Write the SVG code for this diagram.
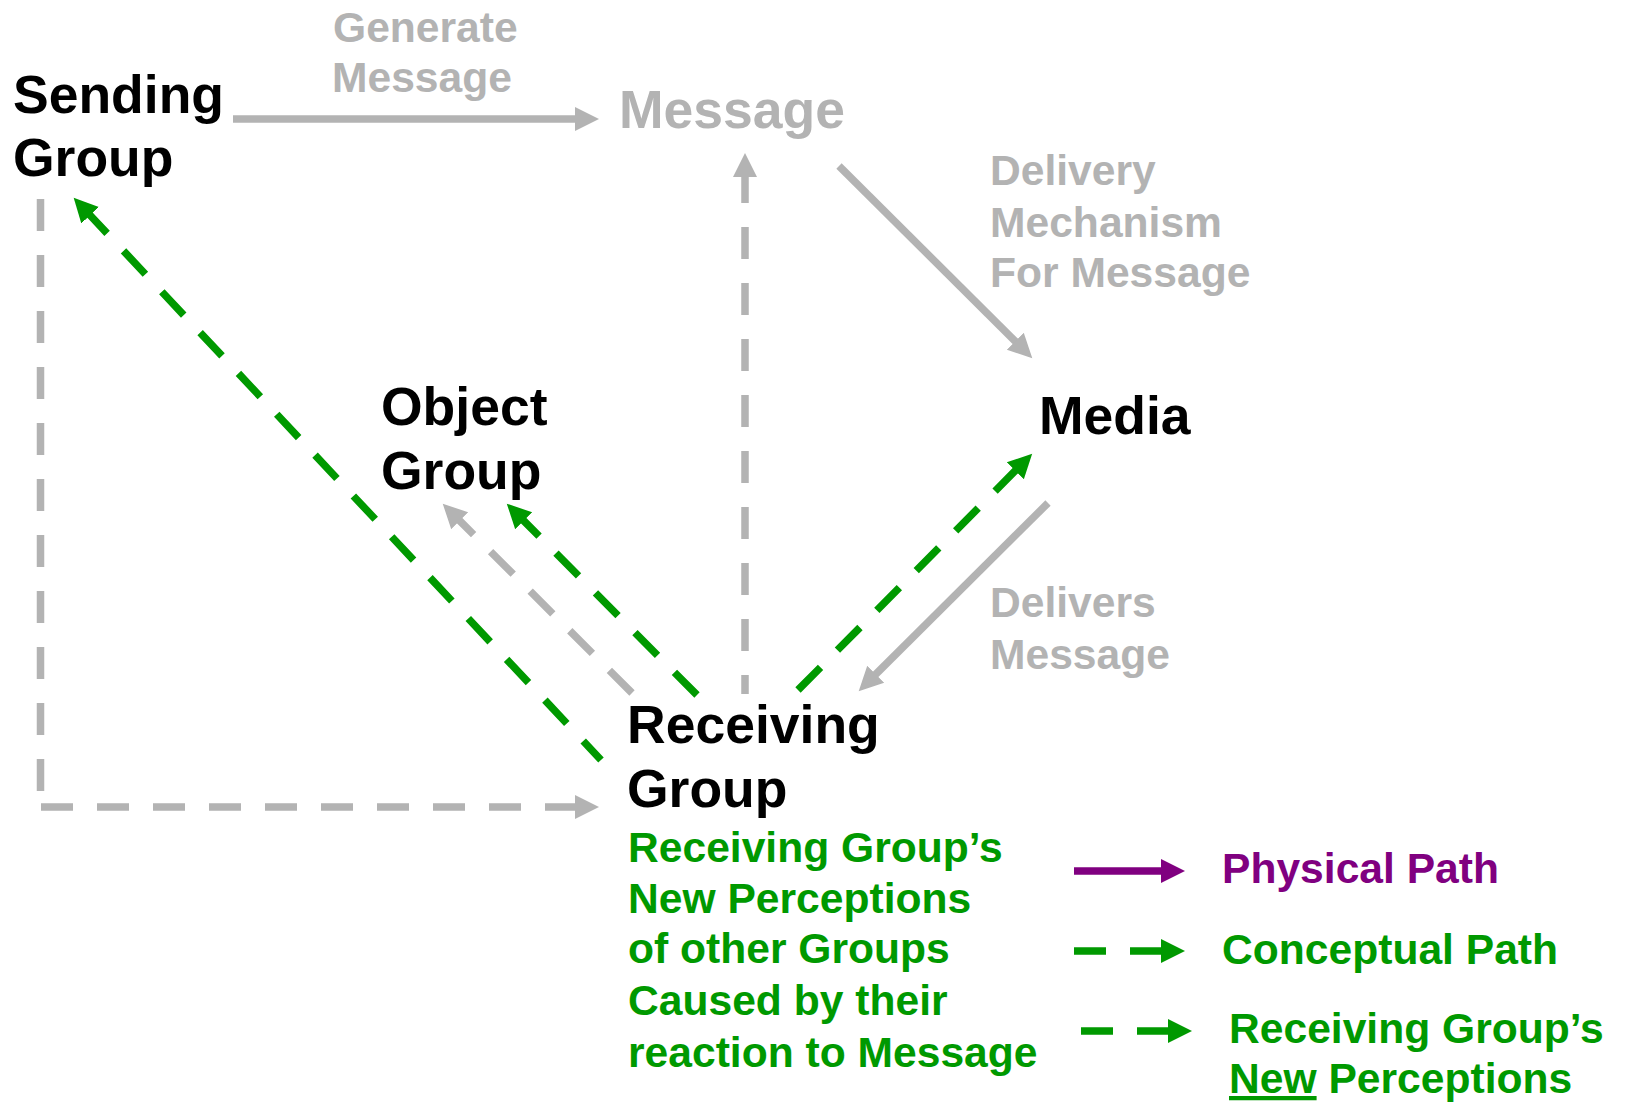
<svg xmlns="http://www.w3.org/2000/svg" width="1626" height="1102" viewBox="0 0 1626 1102">
<style>
  text { font-family: "Liberation Sans", Arial, sans-serif; font-weight: bold; }
  .node { font-size: 53.5px; fill: #000000; }
  .gray { font-size: 42.6px; fill: #b3b3b3; }
  .big { font-size: 53.5px; fill: #b3b3b3; }
  .green { font-size: 42.6px; fill: #009900; }
  .purple { font-size: 42.6px; fill: #800080; }
  .c { fill: none; stroke-width: 7.5; stroke-linecap: butt; }
  .cg { stroke: #b3b3b3; }
  .cgr { stroke: #009900; }
  .cp { stroke: #800080; }
  .d { stroke-dasharray: 32 24; }
</style>
<defs>
  <marker id="ah-gray" markerUnits="userSpaceOnUse" markerWidth="26" markerHeight="26" refX="1" refY="12" orient="auto" viewBox="0 0 26 24">
    <path d="M0,0 L24,12 L0,24 Z" fill="#b3b3b3"/>
  </marker>
  <marker id="ah-green" markerUnits="userSpaceOnUse" markerWidth="26" markerHeight="26" refX="1" refY="12" orient="auto" viewBox="0 0 26 24">
    <path d="M0,0 L24,12 L0,24 Z" fill="#009900"/>
  </marker>
  <marker id="ah-purple" markerUnits="userSpaceOnUse" markerWidth="26" markerHeight="26" refX="1" refY="12" orient="auto" viewBox="0 0 26 24">
    <path d="M0,0 L24,12 L0,24 Z" fill="#800080"/>
  </marker>
</defs>

<g id="connectors">
  <path id="c-generate" class="c cg" d="M233,119 H576" marker-end="url(#ah-gray)"/>
  <path id="c-delivery" class="c cg" d="M839,166 L1016,342" marker-end="url(#ah-gray)"/>
  <path id="c-delivers" class="c cg" d="M1048,503 L875,675" marker-end="url(#ah-gray)"/>
  <path id="c-recv-message" class="c cg d" d="M745,694 V176" stroke-dashoffset="13" marker-end="url(#ah-gray)"/>
  <path id="c-send-recv" class="c cg" d="M40.5,199 V807 H576" stroke-dasharray="32 24 32 24 32 24 32 24 32 24 32 24 32 24 32 24 32 24 32 24 32 16.5 32 24 32 24 32 24 32 24 32 24 32 24 32 24 32 24 32 24 32 24" marker-end="url(#ah-gray)"/>
  <path id="c-recv-object-gray" class="c cg d" d="M632,693 L459,520" marker-end="url(#ah-gray)"/>
  <path id="c-recv-object-green" class="c cgr d" d="M697,695 L523,520" marker-end="url(#ah-green)"/>
  <path id="c-recv-sending" class="c cgr d" d="M601,760 L89.4,214.5" stroke-dashoffset="6" marker-end="url(#ah-green)"/>
  <path id="c-recv-media" class="c cgr d" d="M798,690 L1016,470" marker-end="url(#ah-green)"/>
</g>

<g id="label-generate">
  <text class="gray" x="333" y="42">Generate</text>
  <text class="gray" x="332" y="92">Message</text>
</g>
<g id="label-delivery">
  <text class="gray" x="990" y="185">Delivery</text>
  <text class="gray" x="990" y="237">Mechanism</text>
  <text class="gray" x="990" y="287">For Message</text>
</g>
<g id="label-delivers">
  <text class="gray" x="990" y="617">Delivers</text>
  <text class="gray" x="990" y="669">Message</text>
</g>

<g id="node-sending">
  <text class="node" x="13" y="113">Sending</text>
  <text class="node" x="13" y="176">Group</text>
</g>
<g id="node-message">
  <text class="big" x="619" y="128">Message</text>
</g>
<g id="node-media">
  <text class="node" x="1039" y="434">Media</text>
</g>
<g id="node-object">
  <text class="node" x="381" y="425">Object</text>
  <text class="node" x="381" y="489">Group</text>
</g>
<g id="node-receiving">
  <text class="node" x="627" y="743">Receiving</text>
  <text class="node" x="627" y="807">Group</text>
  <text class="green" x="628" y="862">Receiving Group’s</text>
  <text class="green" x="628" y="913">New Perceptions</text>
  <text class="green" x="628" y="963">of other Groups</text>
  <text class="green" x="628" y="1015">Caused by their</text>
  <text class="green" x="628" y="1067">reaction to Message</text>
</g>

<g id="legend">
  <g id="legend-physical">
    <path class="c cp" d="M1074,871 H1162" marker-end="url(#ah-purple)"/>
    <text class="purple" x="1222" y="883">Physical Path</text>
  </g>
  <g id="legend-conceptual">
    <path class="c cgr d" d="M1074,951 H1162" marker-end="url(#ah-green)"/>
    <text class="green" x="1222" y="964">Conceptual Path</text>
  </g>
  <g id="legend-perceptions">
    <path class="c cgr d" d="M1081,1031 H1169" marker-end="url(#ah-green)"/>
    <text class="green" x="1229" y="1043">Receiving Group’s</text>
    <text class="green" x="1229" y="1093"><tspan text-decoration="underline">New</tspan> Perceptions</text>
  </g>
</g>
</svg>
